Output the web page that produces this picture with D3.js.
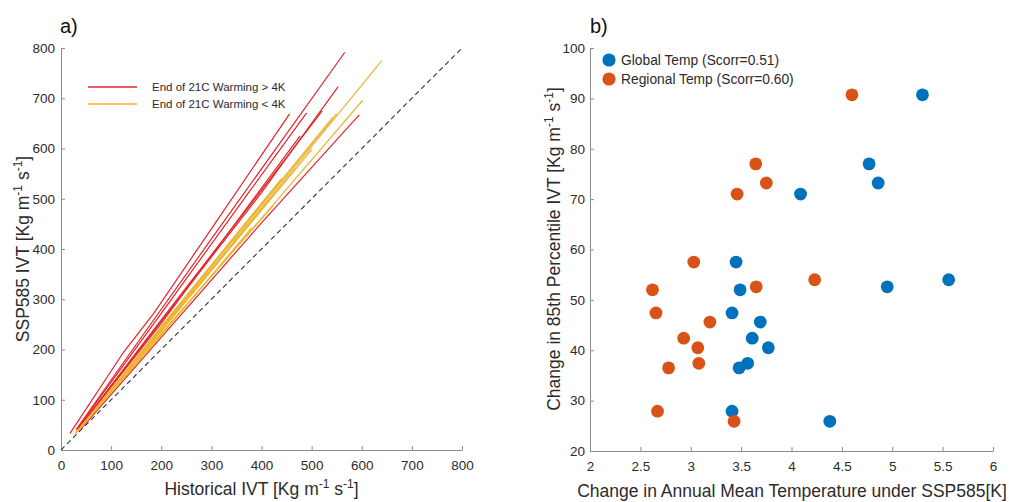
<!DOCTYPE html>
<html>
<head>
<meta charset="utf-8">
<script src="https://cdn.jsdelivr.net/npm/d3@7"></script>
<style>
  body { margin: 0; background: #fff; }
  text { font-family: "Liberation Sans", Arial, Helvetica, sans-serif; }
</style>
</head>
<body>
<svg id="fig" width="1009" height="502"></svg>
<script>
// ---- Panel a: IVT quantile curves, historical vs SSP585 ([hist, ssp] per model) ----
const hotModels = [ // end-of-century warming > 4K
  [[18, 33], [125, 195], [185, 272], [300, 440], [456, 669]],
  [[30, 40], [150, 210], [300, 420], [566, 791]],
  [[32, 42], [200, 272], [380, 520], [490, 671]],
  [[34, 42], [200, 259], [400, 517], [521, 675]],
  [[35, 43], [200, 256], [400, 512], [553, 723]],
  [[33, 41], [200, 252], [477, 625]],
  [[40, 42], [200, 224], [400, 452], [595, 667]]
];
const mildModels = [ // end-of-century warming < 4K
  [[35, 38], [200, 238], [400, 482], [640, 775]],
  [[33, 37], [200, 230], [400, 461], [602, 696]],
  [[30, 35], [200, 242], [400, 487], [550, 669]],
  [[32, 36], [200, 244], [543, 663]],
  [[30, 34], [200, 232], [424, 487]],
  [[28, 32], [200, 236], [500, 598]],
  [[34, 38], [200, 240], [470, 562]],
  [[36, 40], [200, 246], [440, 540]],
  [[30, 35], [200, 228], [380, 442]]
];
const ivtTicks = [0, 100, 200, 300, 400, 500, 600, 700, 800];
const oneToOne = [[0, 0], [800, 800]];
const legendA = ["End of 21C Warming > 4K", "End of 21C Warming < 4K"];

// ---- Panel b: change in 85th percentile IVT vs warming ----
const ivtChange    = [90.7, 77.0, 73.2, 71.0, 57.5, 52.0, 52.6, 54.0, 47.4, 45.6, 42.4, 40.5, 37.4, 36.5, 27.9, 25.9];
const globalTemp   = [5.30, 4.77, 4.86, 4.09, 3.45, 3.49, 4.95, 5.56, 3.41, 3.69, 3.61, 3.77, 3.565, 3.48, 3.41, 4.38];
const regionalTemp = [4.60, 3.645, 3.75, 3.46, 3.03, 2.62, 3.65, 4.23, 2.655, 3.19, 2.93, 3.07, 3.08, 2.78, 2.67, 3.43];
const tempTicks = [2, 2.5, 3, 3.5, 4, 4.5, 5, 5.5, 6];
const changeTicks = [20, 30, 40, 50, 60, 70, 80, 90, 100];
const legendB = ["Global Temp (Scorr=0.51)", "Regional Temp (Scorr=0.60)"];

const RED = "#e6232a", YELLOW = "#edb431";
const BLUE = "#0072BD", ORANGE = "#D95319";
const AXIS = "#8c8c8c", INK = "#2b2b2b";

const svg = d3.select("#fig");

function styleAxis(g) {
  g.select(".domain").attr("stroke", AXIS).attr("stroke-width", 1);
  g.selectAll(".tick line").attr("stroke", AXIS);
  g.selectAll(".tick text").attr("fill", INK).style("font-size", "13.5px")
    .style("font-family", '"Liberation Sans", Arial, sans-serif');
}

// label with "[Kg m^-1 s^-1]" superscripts
function unitLabel(sel, prefix) {
  sel.append("tspan").text(prefix + " [Kg m");
  sel.append("tspan").attr("dy", -7).style("font-size", "12px").text("-1");
  sel.append("tspan").attr("dy", 7).text(" s");
  sel.append("tspan").attr("dy", -7).style("font-size", "12px").text("-1");
  sel.append("tspan").attr("dy", 7).text("]");
}

// ================= Panel a =================
const xa = d3.scaleLinear().domain([0, 800]).range([61, 462]);
const ya = d3.scaleLinear().domain([0, 800]).range([450, 48]);

const gA = svg.append("g");
gA.append("g").attr("transform", `translate(0,${ya(0)})`)
  .call(d3.axisBottom(xa).tickValues(ivtTicks).tickSizeInner(-4).tickSizeOuter(0).tickPadding(10))
  .call(styleAxis);
gA.append("g").attr("transform", `translate(${xa(0)},0)`)
  .call(d3.axisLeft(ya).tickValues(ivtTicks).tickSizeInner(-4).tickSizeOuter(0).tickPadding(6))
  .call(styleAxis);

const lineA = d3.line().x(d => xa(d[0])).y(d => ya(d[1]));
gA.append("g").selectAll("path").data(hotModels).join("path")
  .attr("d", lineA).attr("fill", "none").attr("stroke", RED).attr("stroke-width", 1.2);
gA.append("g").selectAll("path").data(mildModels).join("path")
  .attr("d", lineA).attr("fill", "none").attr("stroke", YELLOW).attr("stroke-width", 1.2);
gA.append("path").attr("d", lineA(oneToOne)).attr("fill", "none")
  .attr("stroke", "#333").attr("stroke-width", 1.1).attr("stroke-dasharray", "5,3.5");

// legend a
const legA = gA.append("g");
legendA.forEach((t, i) => {
  const y = 87 + i * 17;
  legA.append("line").attr("x1", 88).attr("x2", 137).attr("y1", y).attr("y2", y)
    .attr("stroke", i === 0 ? RED : YELLOW).attr("stroke-width", 1.7);
  legA.append("text").attr("x", 152).attr("y", y + 4).attr("fill", INK)
    .style("font-size", "11.5px").text(t);
});

gA.append("text").attr("x", 60).attr("y", 33).attr("fill", "#111")
  .style("font-size", "20px").text("a)");
gA.append("text").attr("x", (xa(0) + xa(800)) / 2).attr("y", 495).attr("text-anchor", "middle")
  .attr("fill", INK).style("font-size", "17.5px").call(unitLabel, "Historical IVT");
gA.append("text").attr("transform", "translate(29,249) rotate(-90)").attr("text-anchor", "middle")
  .attr("fill", INK).style("font-size", "17.5px").call(unitLabel, "SSP585 IVT");

// ================= Panel b =================
const xb = d3.scaleLinear().domain([2, 6]).range([590, 993]);
const yb = d3.scaleLinear().domain([20, 100]).range([451, 48]);

const gB = svg.append("g");
gB.append("g").attr("transform", `translate(0,${yb(20)})`)
  .call(d3.axisBottom(xb).tickValues(tempTicks).tickFormat(d3.format("~g"))
    .tickSizeInner(-4).tickSizeOuter(0).tickPadding(10))
  .call(styleAxis);
gB.append("g").attr("transform", `translate(${xb(2)},0)`)
  .call(d3.axisLeft(yb).tickValues(changeTicks).tickSizeInner(-4).tickSizeOuter(0).tickPadding(5))
  .call(styleAxis);

const scatter = [
  { temps: globalTemp, color: BLUE },
  { temps: regionalTemp, color: ORANGE }
];
scatter.forEach(s => {
  gB.append("g").selectAll("circle").data(s.temps).join("circle")
    .attr("cx", d => xb(d)).attr("cy", (d, i) => yb(ivtChange[i]))
    .attr("r", 6.4).attr("fill", s.color);
});

// legend b
legendB.forEach((t, i) => {
  const y = 60 + i * 19;
  gB.append("circle").attr("cx", 609).attr("cy", y).attr("r", 6.6)
    .attr("fill", i === 0 ? BLUE : ORANGE);
  gB.append("text").attr("x", 621).attr("y", y + 5).attr("fill", INK)
    .style("font-size", "13.8px").text(t);
});

gB.append("text").attr("x", 590).attr("y", 33).attr("fill", "#111")
  .style("font-size", "20px").text("b)");
gB.append("text").attr("x", 792).attr("y", 497).attr("text-anchor", "middle")
  .attr("fill", INK).style("font-size", "17.5px")
  .text("Change in Annual Mean Temperature under SSP585[K]");
gB.append("text").attr("transform", "translate(560,249) rotate(-90)").attr("text-anchor", "middle")
  .attr("fill", INK).style("font-size", "17.5px").call(unitLabel, "Change in 85th Percentile IVT");
</script>
</body>
</html>
